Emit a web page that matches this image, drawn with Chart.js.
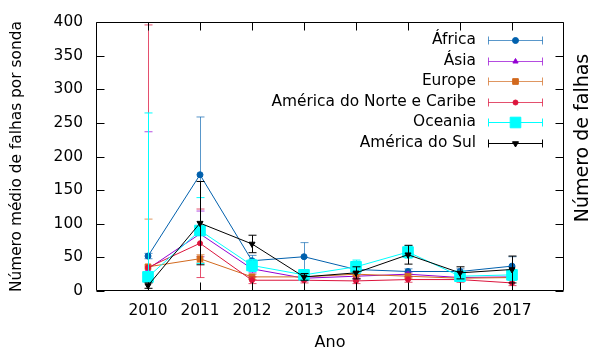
<!DOCTYPE html>
<html lang="pt">
<head>
<meta charset="UTF-8">
<title>Número médio de falhas por sonda</title>
<script src="https://cdn.jsdelivr.net/npm/chart.js"></script>
<style>
  html, body { margin: 0; padding: 0; background: #fff; }
</style>
</head>
<body>
<canvas id="falhasChart" width="590" height="349"></canvas>
<script>
// dados
const anos = [2010, 2011, 2012, 2013, 2014, 2015, 2016, 2017];

const africa      = [52, 173, 45, 51, 32, 29, 29, 37];
const africaErro  = [4, 86, 8, 21, 5, 4, 4, 14];
const asia        = [33, 85, 33, 19, 22, 25, 20, 21];
const asiaErro    = [204, 34, 6, 4, 4, 3, 3, 3];
const europa      = [36, 48, 21, 21, 25, 22, 19, 20];
const europaErro  = [71, 6, 4, 3, 3, 3, 3, 3];
const norte       = [35, 71, 16, 16, 15, 17, 17, 12];
const norteErro   = [361, 51, 5, 4, 4, 4, 4, 4];
const oceania     = [21, 90, 38, 24, 36, 58, 22, 24];
const oceaniaErro = [244, 49, 9, 8, 10, 9, 5, 8];
const sul         = [8, 101, 70, 21, 27, 54, 27, 32];
const sulErro     = [4, 62, 13, 5, 9, 14, 9, 20];

const yTicks = [0, 50, 100, 150, 200, 250, 300, 350, 400];

const fonte = 'DejaVu Sans';
const tam = 15.4;

const series = [
  { label: 'África', valores: africa, erros: africaErro, cor: '#0060ad', erroCor: 'rgba(0,96,173,0.65)', estilo: 'circle', raio: 3, rot: 0 },
  { label: 'Ásia', valores: asia, erros: asiaErro, cor: '#9400d3', erroCor: 'rgba(148,0,211,0.7)', estilo: 'triangle', raio: 3, rot: 0 },
  { label: 'Europe', valores: europa, erros: europaErro, cor: '#d2691e', erroCor: 'rgba(210,105,30,0.7)', estilo: 'rect', raio: 4, rot: 0 },
  { label: 'América do Norte e Caribe', valores: norte, erros: norteErro, cor: '#dc143c', erroCor: 'rgba(220,20,60,0.75)', estilo: 'circle', raio: 2.5, rot: 0 },
  { label: 'Oceania', valores: oceania, erros: oceaniaErro, cor: '#00ffff', erroCor: '#00ffff', estilo: 'rect', raio: 7.5, rot: 0 },
  { label: 'América do Sul', valores: sul, erros: sulErro, cor: '#000000', erroCor: '#000000', estilo: 'triangle', raio: 3.5, rot: 180 }
];

const datasets = series.map((s, i) => ({
  label: s.label,
  data: anos.map((a, j) => ({ x: a, y: s.valores[j] })),
  erros: s.erros,
  erroCor: s.erroCor,
  borderColor: s.cor,
  backgroundColor: s.cor,
  borderWidth: 1,
  tension: 0,
  pointStyle: s.estilo,
  pointRadius: s.raio,
  pointRotation: s.rot,
  pointBorderWidth: 1,
  pointBackgroundColor: s.cor,
  pointBorderColor: s.cor,
  order: series.length - i
}));

// barras de erro desenhadas antes de cada serie
const barrasDeErro = {
  id: 'barrasDeErro',
  beforeDatasetDraw(chart, args) {
    const ds = chart.data.datasets[args.index];
    const { ctx, chartArea: a, scales: { x, y } } = chart;
    ctx.save();
    ctx.beginPath();
    ctx.rect(a.left, a.top, a.right - a.left, a.bottom - a.top);
    ctx.clip();
    ctx.strokeStyle = ds.erroCor;
    ctx.lineWidth = 1;
    ds.data.forEach((p, i) => {
      const e = ds.erros[i];
      const px = Math.round(x.getPixelForValue(p.x)) + 0.5;
      const top = y.getPixelForValue(p.y + e);
      const bot = y.getPixelForValue(p.y - e);
      ctx.beginPath();
      ctx.moveTo(px, top); ctx.lineTo(px, bot);
      ctx.moveTo(px - 4, top); ctx.lineTo(px + 4, top);
      ctx.moveTo(px - 4, bot); ctx.lineTo(px + 4, bot);
      ctx.stroke();
    });
    ctx.restore();
  }
};

// moldura e marcas para dentro, como no gnuplot
const moldura = {
  id: 'moldura',
  afterDatasetsDraw(chart) {
    const { ctx, chartArea: a, scales: { x, y } } = chart;
    const L = Math.round(a.left) + 0.5, R = Math.round(a.right) - 0.5;
    const T = Math.round(a.top) + 0.5, B = Math.round(a.bottom) - 0.5;
    ctx.save();
    ctx.strokeStyle = '#000';
    ctx.lineWidth = 1;
    ctx.beginPath();
    anos.forEach(v => {
      const px = Math.round(x.getPixelForValue(v)) + 0.5;
      ctx.moveTo(px, B); ctx.lineTo(px, B - 8);
      ctx.moveTo(px, T); ctx.lineTo(px, T + 8);
    });
    yTicks.forEach(v => {
      const py = Math.round(y.getPixelForValue(v)) + 0.5;
      ctx.moveTo(L, py); ctx.lineTo(L + 8, py);
      ctx.moveTo(R, py); ctx.lineTo(R - 8, py);
    });
    ctx.stroke();
    ctx.beginPath();
    ctx.rect(L, T, R - L, B - T);
    ctx.stroke();
    ctx.restore();
  }
};

// legenda dentro do grafico, texto a direita e amostra com barra de erro
const legenda = {
  id: 'legenda',
  afterDraw(chart) {
    const ctx = chart.ctx;
    ctx.save();
    ctx.font = tam + 'px "' + fonte + '"';
    ctx.textAlign = 'right';
    ctx.textBaseline = 'middle';
    series.forEach((s, i) => {
      const yy = 40 + i * 20.5;
      ctx.fillStyle = '#000';
      ctx.fillText(s.label, 476, yy);
      const ly = Math.round(yy) + 0.5;
      ctx.strokeStyle = s.erroCor;
      ctx.lineWidth = 1;
      ctx.beginPath();
      ctx.moveTo(488.5, ly); ctx.lineTo(542.5, ly);
      ctx.moveTo(488.5, ly - 4); ctx.lineTo(488.5, ly + 4);
      ctx.moveTo(542.5, ly - 4); ctx.lineTo(542.5, ly + 4);
      ctx.stroke();
      ctx.fillStyle = s.cor;
      ctx.strokeStyle = s.cor;
      Chart.helpers.drawPoint(ctx, { pointStyle: s.estilo, radius: s.raio, rotation: s.rot, borderWidth: 1 }, 515.5, ly);
    });
    // titulo do eixo da direita, cortado na borda
    ctx.fillStyle = '#000';
    ctx.font = '19px "' + fonte + '"';
    ctx.textAlign = 'center';
    ctx.translate(583, 138);
    ctx.rotate(-Math.PI / 2);
    ctx.fillText('Número de falhas', 0, 0);
    ctx.restore();
  }
};

new Chart(document.getElementById('falhasChart'), {
  type: 'line',
  data: { datasets },
  options: {
    responsive: false,
    animation: false,
    layout: { padding: { top: 21, right: 26, left: 0, bottom: 0 } },
    plugins: { legend: { display: false }, tooltip: { enabled: false } },
    scales: {
      x: {
        type: 'linear',
        min: 2009,
        max: 2018,
        afterFit: s => { s.height = 58; },
        grid: { display: false, drawTicks: false },
        border: { display: false },
        ticks: {
          stepSize: 1,
          autoSkip: false,
          maxRotation: 0,
          padding: 11,
          color: '#000',
          font: { family: fonte, size: tam },
          callback: v => (v >= 2010 && v <= 2017) ? String(v) : ''
        },
        title: {
          display: true,
          text: 'Ano',
          color: '#000',
          font: { family: fonte, size: 16, lineHeight: 0.8 },
          padding: 0
        }
      },
      y: {
        min: 0,
        max: 400,
        afterFit: s => { s.width = 96; },
        afterBuildTicks: s => { s.ticks = yTicks.map(v => ({ value: v })); },
        grid: { display: false, drawTicks: false },
        border: { display: false },
        ticks: {
          padding: 13,
          color: '#000',
          font: { family: fonte, size: tam }
        },
        title: {
          display: true,
          text: 'Número médio de falhas por sonda',
          color: '#000',
          font: { family: fonte, size: tam },
          padding: { top: 8, bottom: 0 }
        }
      }
    }
  },
  plugins: [barrasDeErro, moldura, legenda]
});
</script>
</body>
</html>
